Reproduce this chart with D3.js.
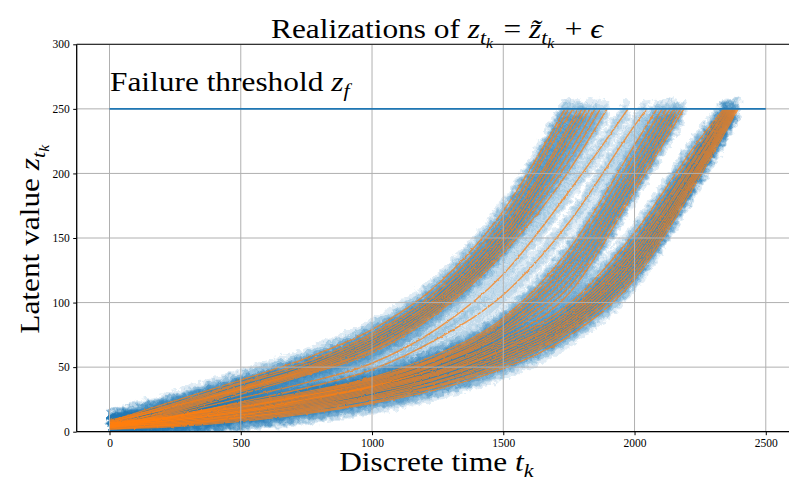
<!DOCTYPE html>
<meta charset="utf-8">
<script src="https://d3js.org/d3.v7.min.js"></script>
<style>
  body { margin: 0; background: #fff; }
  text { font-family: "Liberation Serif", serif; fill: #000; }
</style>
<body></body>
<script>
var knotT = [0, 250, 500, 750, 1000, 1250, 1500, 1750, 2000, 2250];
var threshold = 250;
var xTicks = [0, 500, 1000, 1500, 2000, 2500];
var yTicks = [0, 50, 100, 150, 200, 250, 300];

// each row: failure time, then z at knotT (only knots before failure)
var groupA = [
  [1735, 8, 24, 40, 57, 79, 114, 171],
  [1748, 7, 22, 38, 54, 76, 110, 166],
  [1765, 9, 21, 37, 52, 74, 107, 161, 245],
  [1785, 6, 20, 35, 50, 72, 104, 157, 237],
  [1800, 8, 19, 34, 49, 70, 102, 153, 233],
  [1815, 5, 18, 33, 48, 68, 100, 150, 228],
  [1830, 7, 20, 33, 47, 66, 98, 147, 223],
  [1850, 6, 17, 32, 46, 64, 96, 144, 216],
  [1870, 4, 16, 31, 45, 63, 94, 141, 210],
  [1895, 5, 15, 29, 44, 61, 92, 138, 202]
];
var groupM = [
  [1975, 5, 14, 26, 38, 53, 80, 122, 186],
  [2046, 6, 12, 23, 34, 48, 72, 106, 162, 237]
];
var groupB = [
  [2085, 6, 13, 22, 31, 42, 60, 88, 141, 222],
  [2105, 4, 12, 21, 30, 41, 58, 86, 136, 215],
  [2120, 7, 12, 20, 29, 40, 57, 84, 131, 209],
  [2135, 5, 11, 19, 28, 39, 56, 81, 127, 204],
  [2150, 3, 12, 19, 28, 38, 54, 79, 122, 199],
  [2162, 6, 10, 18, 27, 37, 53, 77, 117, 195],
  [2175, 4, 11, 17, 26, 36, 52, 75, 112, 190],
  [2188, 5, 9, 16, 25, 35, 50, 72, 107, 186]
];
var groupC = [
  [2340, 7, 10, 16, 25, 35, 49, 70, 99, 154, 227],
  [2345, 5, 9, 15, 24, 34, 47, 68, 96, 149, 223],
  [2350, 4, 9, 15, 23, 33, 46, 66, 93, 145, 219],
  [2355, 6, 8, 14, 22, 32, 45, 64, 91, 142, 217],
  [2360, 3, 8, 13, 21, 31, 44, 63, 89, 139, 214],
  [2365, 5, 7, 13, 20, 30, 42, 61, 87, 136, 212],
  [2370, 4, 7, 12, 19, 28, 41, 59, 85, 133, 209],
  [2375, 2, 6, 11, 18, 27, 39, 57, 83, 130, 207],
  [2380, 5, 6, 11, 17, 26, 38, 55, 81, 127, 205],
  [2385, 3, 5, 10, 16, 25, 36, 53, 79, 124, 203],
  [2390, 4, 5, 9, 15, 23, 35, 51, 77, 121, 201],
  [2395, 2, 4, 8, 14, 22, 33, 49, 74, 118, 198]
];

var width = 789, height = 481;
var pLeft = 76.7, pRight = 798.6, pTop = 44.3, pBottom = 431.7;

var svg = d3.select("body").append("svg")
    .attr("width", width)
    .attr("height", height);

var x = d3.scaleLinear().domain([-125, 2625]).range([pLeft, pRight]);
var y = d3.scaleLinear().domain([0, 300]).range([pBottom, pTop]);

var defs = svg.append("defs");
defs.append("clipPath").attr("id", "plotclip")
  .append("rect").attr("x", pLeft).attr("y", pTop)
  .attr("width", pRight - pLeft).attr("height", pBottom - pTop);

// noise filters so the dots scatter and the lines look jittery
var f1 = defs.append("filter").attr("id", "scatter")
  .attr("filterUnits", "userSpaceOnUse")
  .attr("x", 0).attr("y", 0).attr("width", width).attr("height", height);
f1.append("feTurbulence").attr("type", "fractalNoise")
  .attr("baseFrequency", 0.18).attr("numOctaves", 2).attr("seed", 4).attr("result", "n");
f1.append("feDisplacementMap").attr("in", "SourceGraphic").attr("in2", "n")
  .attr("scale", 9).attr("xChannelSelector", "R").attr("yChannelSelector", "G");

var f2 = defs.append("filter").attr("id", "jitter")
  .attr("filterUnits", "userSpaceOnUse")
  .attr("x", 0).attr("y", 0).attr("width", width).attr("height", height);
f2.append("feTurbulence").attr("type", "fractalNoise")
  .attr("baseFrequency", 0.3).attr("numOctaves", 1).attr("seed", 7).attr("result", "n");
f2.append("feDisplacementMap").attr("in", "SourceGraphic").attr("in2", "n")
  .attr("scale", 2.6).attr("xChannelSelector", "R").attr("yChannelSelector", "G");

function toPoints(row) {
  var pts = row.slice(1).map(function(z, i) { return [knotT[i], z]; });
  pts.push([row[0], threshold]);
  return pts;
}
var paths = groupA.concat(groupM, groupB, groupC).map(toPoints);

var line = d3.line()
    .x(function(d) { return x(d[0]); })
    .y(function(d) { return y(d[1]); })
    .curve(d3.curveMonotoneX);

var plot = svg.append("g").attr("clip-path", "url(#plotclip)");

// blue noisy observations
var offsets = [-8, -4, 0, 4, 8];
var scat = plot.append("g").attr("filter", "url(#scatter)");
offsets.forEach(function(off, k) {
  scat.append("g").attr("transform", "translate(0," + off + ")")
    .selectAll("path").data(paths).enter().append("path")
      .attr("d", line)
      .attr("fill", "none")
      .attr("stroke", "#1f77b4")
      .attr("stroke-opacity", 0.15)
      .attr("stroke-width", 6.5)
      .attr("stroke-linecap", "round")
      .attr("stroke-dasharray", "0 5")
      .attr("stroke-dashoffset", k * 1.3);
});

// grid
var grid = svg.append("g");
grid.selectAll(".gx").data(xTicks).enter().append("line")
  .attr("x1", function(d) { return x(d); }).attr("x2", function(d) { return x(d); })
  .attr("y1", pTop).attr("y2", pBottom)
  .attr("stroke", "#b0b0b0").attr("stroke-width", 1);
grid.selectAll(".gy").data(yTicks).enter().append("line")
  .attr("x1", pLeft).attr("x2", pRight)
  .attr("y1", function(d) { return y(d); }).attr("y2", function(d) { return y(d); })
  .attr("stroke", "#b0b0b0").attr("stroke-width", 1);

// orange latent paths
plot.append("g").attr("filter", "url(#jitter)")
  .selectAll("path").data(paths).enter().append("path")
    .attr("d", line)
    .attr("fill", "none")
    .attr("stroke", "#ff7f0e")
    .attr("stroke-opacity", 0.75)
    .attr("stroke-width", 1.4);

// failure threshold
svg.append("line")
  .attr("x1", x(0)).attr("x2", x(2500))
  .attr("y1", y(threshold)).attr("y2", y(threshold))
  .attr("stroke", "#1f77b4").attr("stroke-width", 1.6);

// axes
var xAxis = svg.append("g").attr("transform", "translate(0," + pBottom + ")")
  .call(d3.axisBottom(x).tickValues(xTicks).tickFormat(d3.format("d")).tickSize(3.5).tickPadding(3.5));
var yAxis = svg.append("g").attr("transform", "translate(" + pLeft + ",0)")
  .call(d3.axisLeft(y).tickValues(yTicks).tickFormat(d3.format("d")).tickSize(3.5).tickPadding(3.5));
[xAxis, yAxis].forEach(function(a) {
  a.select(".domain").remove();
  a.selectAll("text").style("font-family", "Liberation Serif").style("font-size", "11.5px").attr("fill", "#111");
  a.selectAll("line").attr("stroke", "#000");
});
svg.append("line").attr("x1", pLeft).attr("x2", pLeft).attr("y1", pTop).attr("y2", pBottom)
  .attr("stroke", "#000").attr("stroke-width", 1.3);
svg.append("line").attr("x1", pLeft).attr("x2", pRight).attr("y1", pBottom).attr("y2", pBottom)
  .attr("stroke", "#000").attr("stroke-width", 1.3);
svg.append("line").attr("x1", pLeft).attr("x2", pRight).attr("y1", pTop).attr("y2", pTop)
  .attr("stroke", "#333").attr("stroke-width", 1.3);

// text with sub/subscripts
function mathText(g, parts) {
  var t = g.append("text");
  parts.forEach(function(p) {
    var s = t.append("tspan").text(p.s);
    if (p.it) s.style("font-style", "italic");
    if (p.fs) s.style("font-size", p.fs + "px");
    if (p.dy) s.attr("dy", p.dy);
  });
  return t;
}

var fs = 28, sx = 1.12;
function sub(base, subT, subsub) {
  var a = [{ s: base, it: true },
           { s: subT, it: true, fs: fs * 0.7, dy: fs * 0.22 }];
  if (subsub) {
    a.push({ s: subsub, it: true, fs: fs * 0.5, dy: fs * 0.14 });
    a.push({ s: "\u200a", fs: fs, dy: -fs * 0.36 });
  } else {
    a.push({ s: "\u200a", fs: fs, dy: -fs * 0.22 });
  }
  return a;
}

// serif labels, stretched a little to the width of the original face
mathText(svg, [{ s: "Realizations of " }]
  .concat(sub("z", "t", "k"), [{ s: " = " }], sub("z\u0303", "t", "k"), [{ s: " + " }, { s: "\u03f5", it: true }]))
  .attr("text-anchor", "middle")
  .attr("transform", "translate(" + ((268 + 606) / 2) + ",38) scale(" + sx + ",1)")
  .style("font-size", fs + "px");

mathText(svg, [{ s: "Failure threshold " }].concat(sub("z", "f")))
  .attr("transform", "translate(110,91) scale(" + sx + ",1)")
  .style("font-size", fs + "px");

mathText(svg, [{ s: "Discrete time " }].concat(sub("t", "k")))
  .attr("text-anchor", "middle")
  .attr("transform", "translate(" + ((pLeft + pRight) / 2) + ",471) scale(" + sx + ",1)")
  .style("font-size", fs + "px");

mathText(svg, [{ s: "Latent value " }].concat(sub("z", "t", "k")))
  .attr("text-anchor", "middle")
  .attr("transform", "translate(39," + ((pTop + pBottom) / 2) + ") rotate(-90) scale(" + sx + ",1)")
  .style("font-size", fs + "px");
</script>
</html>
